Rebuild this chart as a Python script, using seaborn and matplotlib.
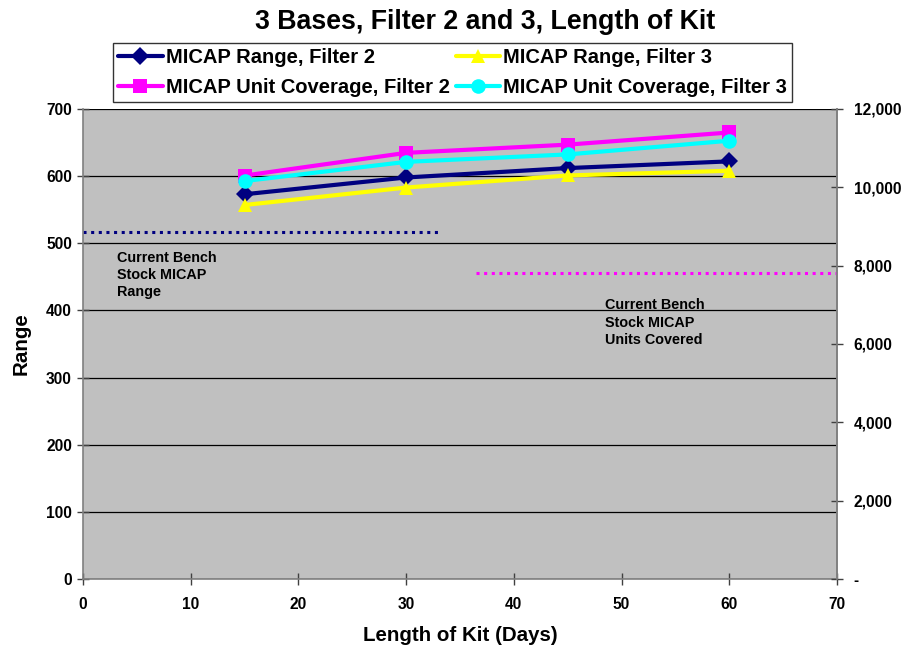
import matplotlib
matplotlib.use("Agg")
import matplotlib.pyplot as plt
import seaborn as sns
import pandas as pd
from matplotlib.ticker import FuncFormatter, MultipleLocator

sns.set_theme(style="white")
plt.rcParams['font.family'] = ['Liberation Sans', 'DejaVu Sans']
plt.rcParams['font.weight'] = 'bold'
plt.rcParams['text.color'] = 'black'
plt.rcParams['axes.labelcolor'] = 'black'
plt.rcParams['xtick.color'] = 'black'
plt.rcParams['ytick.color'] = 'black'

days = [15, 30, 45, 60]
range_f2 = [573, 598, 612, 622]
range_f3 = [557, 583, 601, 608]
units_f2 = [10300, 10880, 11090, 11400]
units_f3 = [10160, 10650, 10840, 11190]
bench_range = 517
bench_range_x = [0, 33]
bench_units = 7810
bench_units_x = [36.5, 70]

fig = plt.figure(figsize=(9.05, 6.48), dpi=100)
ax = fig.add_axes([0.0917, 0.1065, 0.8332, 0.7253])
ax2 = ax.twinx()
ax.set_facecolor('#C0C0C0')

df_r = pd.DataFrame({'x': days * 2, 'y': range_f2 + range_f3,
                     's': ['MICAP Range, Filter 2'] * 4 + ['MICAP Range, Filter 3'] * 4})
df_u = pd.DataFrame({'x': days * 2, 'y': units_f2 + units_f3,
                     's': ['MICAP Unit Coverage, Filter 2'] * 4 + ['MICAP Unit Coverage, Filter 3'] * 4})

sns.lineplot(data=df_r, x='x', y='y', hue='s', style='s',
             palette={'MICAP Range, Filter 2': '#000080', 'MICAP Range, Filter 3': '#FFFF00'},
             markers={'MICAP Range, Filter 2': 'D', 'MICAP Range, Filter 3': '^'},
             dashes=False, linewidth=3, markersize=9.5, markeredgewidth=0, ax=ax, legend=False)
sns.lineplot(data=df_u, x='x', y='y', hue='s', style='s',
             palette={'MICAP Unit Coverage, Filter 2': '#FF00FF', 'MICAP Unit Coverage, Filter 3': '#00FFFF'},
             markers={'MICAP Unit Coverage, Filter 2': 's', 'MICAP Unit Coverage, Filter 3': 'o'},
             dashes=False, linewidth=3, markersize=10.5, markeredgewidth=0, ax=ax2, legend=False)

ax.plot(bench_range_x, [bench_range] * 2, color='#000080', linestyle=(0, (1, 1.5)), linewidth=2.2)
ax2.plot(bench_units_x, [bench_units] * 2, color='#FF00FF', linestyle=(0, (1, 1.5)), linewidth=2.2)

ax.set_xlim(0, 70)
ax.set_ylim(0, 700)
ax2.set_ylim(0, 12000)
ax.xaxis.set_major_locator(MultipleLocator(10))
ax.yaxis.set_major_locator(MultipleLocator(100))
ax2.yaxis.set_major_locator(MultipleLocator(2000))
ax2.yaxis.set_major_formatter(FuncFormatter(lambda v, p: '-' if v == 0 else f'{int(v):,}'))

ax.grid(axis='y', color='black', linewidth=0.9)
ax.set_axisbelow(True)
ax2.grid(False)

for a in (ax, ax2):
    for s in a.spines.values():
        s.set_color('#808080')
        s.set_linewidth(1.2)
    a.spines['top'].set_visible(False)
ax2.spines['left'].set_visible(False)
ax2.spines['bottom'].set_visible(False)

ax.tick_params(axis='y', direction='inout', length=8, width=1, color='#404040',
               labelsize=11.2, pad=4, left=True)
ax.tick_params(axis='x', direction='inout', length=8, width=1, color='#404040',
               labelsize=11.2, pad=9, bottom=True)
ax2.tick_params(axis='y', direction='inout', length=8, width=1, color='#404040',
                labelsize=11.2, pad=8, right=True)
for lab in ax.get_xticklabels() + ax.get_yticklabels() + ax2.get_yticklabels():
    lab.set_fontweight('bold')

ax.set_xlabel('Length of Kit (Days)', fontsize=14.8, fontweight='bold', labelpad=10)
ax.set_ylabel('Range', fontsize=14.8, fontweight='bold', labelpad=11)
ax2.set_ylabel('')

fig.text(0.536, 0.966, '3 Bases, Filter 2 and 3, Length of Kit', ha='center', va='center',
         fontsize=19.3, fontweight='bold')

ax.text(3.2, 489, 'Current Bench\nStock MICAP\nRange', fontsize=10.4, fontweight='bold',
        va='top', ha='left', linespacing=1.3)
ax.text(48.5, 418, 'Current Bench\nStock MICAP\nUnits Covered', fontsize=10.4, fontweight='bold',
        va='top', ha='left', linespacing=1.3)

h1 = ax.get_lines()[:2]
h2 = ax2.get_lines()[:2]
handles = [h1[0], h2[0], h1[1], h2[1]]
labels = ['MICAP Range, Filter 2', 'MICAP Unit Coverage, Filter 2',
          'MICAP Range, Filter 3', 'MICAP Unit Coverage, Filter 3']
leg = fig.legend(handles, labels, loc='center', bbox_to_anchor=(0.5, 0.888), ncol=2,
                 frameon=True, fancybox=False, edgecolor='black',
                 prop={'weight': 'bold', 'size': 14.5}, handlelength=2.2, handletextpad=0.15,
                 columnspacing=0.3, borderpad=0.25, labelspacing=0.55)
leg.get_frame().set_linewidth(1.0)

fig.savefig('out.png', dpi=100)
